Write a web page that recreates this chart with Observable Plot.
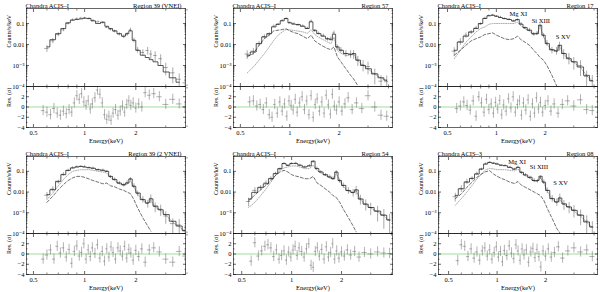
<!DOCTYPE html>
<html><head><meta charset="utf-8">
<script src="https://cdn.jsdelivr.net/npm/d3@7"></script>
<script src="https://cdn.jsdelivr.net/npm/@observablehq/plot@0.6"></script>
<style>
body{margin:0;background:#fff;}
#fig{position:relative;width:600px;height:292px;overflow:hidden;font-family:"Liberation Serif","DejaVu Serif",serif;}
#fig svg{position:absolute;overflow:visible;}
</style></head><body><div id="fig"></div>
<script>
// ---------- shared grids ----------
const energy = [0.55,0.6,0.65,0.7,0.75,0.8,0.85,0.9,0.95,1.0,1.06,1.12,1.2,1.28,1.35,1.42,1.5,1.6,1.7,1.78,1.86,1.95,2.05,2.2,2.35,2.45,2.6,2.8,3.0,3.3,3.6,3.9];
const relErr = [0.45,0.35,0.28,0.22,0.18,0.14,0.12,0.1,0.1,0.1,0.1,0.1,0.1,0.12,0.12,0.14,0.15,0.17,0.2,0.2,0.2,0.25,0.3,0.35,0.4,0.45,0.5,0.55,0.6,0.7,0.8,0.85];
const resEnergy = [0.57,0.6,0.63,0.66,0.69,0.72,0.75,0.78,0.81,0.84,0.87,0.9,0.93,0.96,0.99,1.02,1.05,1.08,1.11,1.15,1.19,1.23,1.27,1.31,1.35,1.39,1.43,1.47,1.52,1.57,1.62,1.67,1.72,1.77,1.82,1.87,1.93,2.0,2.08,2.17,2.27,2.4,2.55,2.75,3.0,3.3,3.6,3.9];

// ---------- Panel 1: Region 39 (VNEI) ----------
const p1Model = [null,0.0077,0.017,0.033,0.058,0.108,0.145,0.155,0.166,0.18,0.175,0.134,0.1,0.116,0.074,0.058,0.045,0.033,0.025,0.033,0.045,0.016,0.0053,0.0031,0.0024,0.0019,0.0015,0.001,0.00049,0.00026,0.00016,null];
const p1Data = [null,0.0065,0.015,0.03,0.05,0.1,0.15,0.17,0.18,0.18,0.17,0.14,0.12,0.11,0.065,0.052,0.042,0.031,0.024,0.031,0.05,0.016,0.0055,0.0042,0.0052,0.0035,0.003,0.0021,0.0008,0.00045,0.00022,0.00015];
const p1Res = [-0.7,-1.0,-1.5,-0.3,-1.2,-1.6,-0.8,-1.3,-0.5,-1.0,0.8,2.2,1.5,2.6,1.0,0.3,1.2,-0.4,0.6,1.8,3.3,2.5,0.8,-1.5,-2.4,-1.8,-2.6,-1.2,-0.5,-1.6,-0.8,0.2,-1.0,0.5,1.2,0.3,0.8,-0.2,0.6,0.0,2.8,2.3,2.6,2.0,0.5,1.5,0.6,0.0];

// ---------- Panel 2: Region 57 ----------
const p2Model = [0.0031,0.0044,0.011,0.023,0.033,0.069,0.093,0.134,0.174,0.108,0.093,0.09,0.074,0.058,0.12,0.048,0.033,0.025,0.019,0.017,0.031,0.0077,0.0053,0.0037,0.0034,0.0037,0.0018,0.001,0.0007,0.0004,0.00026,0.0002];
const p2Data = [0.0035,0.0048,0.011,0.024,0.031,0.075,0.09,0.14,0.17,0.11,0.1,0.085,0.078,0.06,0.13,0.045,0.034,0.027,0.018,0.019,0.036,0.0075,0.0056,0.0038,0.0036,0.0035,0.0018,0.0011,0.0009,0.0004,0.00018,0.00017];
const p2Hard = [0.00044,0.00085,0.0018,0.0037,0.0077,0.016,0.028,0.04,0.052,0.05,0.047,0.044,0.04,0.034,0.05,0.03,0.022,0.017,0.013,0.011,0.022,0.0052,0.0038,0.003,0.0031,0.0034,0.0017,0.00098,0.00068,0.00039,0.00025,0.00019];
const p2Soft = [0.0026,0.0037,0.0092,0.019,0.028,0.045,0.048,0.052,0.056,0.045,0.037,0.033,0.025,0.019,0.028,0.015,0.011,0.0082,0.0064,0.0057,0.0077,0.0026,0.0015,0.0007,0.00034,0.00023,0.00011,null,null,null,null,null];
const p2Res = [1.0,1.2,0.2,0.5,-0.5,0.8,-1.5,-2.0,0.5,-1.2,1.0,-0.8,0.6,-1.8,1.2,0.3,-0.6,1.5,-1.0,0.8,2.0,-0.5,1.2,-1.5,2.2,-2.0,0.5,1.6,-0.8,1.0,-1.2,2.3,0.4,-1.4,2.5,0.2,-0.6,1.0,-0.8,0.6,1.8,-0.5,0.8,-0.3,2.2,0.0,-1.6,-1.8];

// ---------- Panel 3: Region 17 ----------
const p3Model = [0.0053,0.013,0.025,0.04,0.058,0.1,0.173,0.233,0.25,0.224,0.193,0.173,0.155,0.134,0.155,0.093,0.064,0.048,0.033,0.033,0.083,0.028,0.011,0.0057,0.0049,0.0092,0.0037,0.0021,0.0015,0.00085,0.00034,0.00019];
const p3Data = [0.0048,0.014,0.028,0.038,0.062,0.095,0.18,0.24,0.25,0.22,0.2,0.17,0.16,0.13,0.15,0.098,0.062,0.05,0.031,0.035,0.08,0.027,0.012,0.0055,0.0052,0.0088,0.0038,0.0024,0.0015,0.001,0.0003,0.00018];
const p3Hard = [0.0021,0.0053,0.013,0.023,0.04,0.058,0.069,0.093,0.1,0.1,0.1,0.1,0.1,0.1,0.116,0.077,0.056,0.043,0.031,0.03,0.075,0.025,0.0103,0.0053,0.0046,0.0086,0.0034,0.002,0.0014,0.00081,0.00033,0.00019];
const p3Soft = [0.0031,0.0053,0.0092,0.015,0.019,0.023,0.03,0.033,0.036,0.028,0.023,0.019,0.017,0.019,0.025,0.017,0.013,0.0092,0.0053,0.0037,0.0024,0.0018,0.001,0.00034,0.00011,null,null,null,null,null,null,null];
const p3Res = [-0.3,0.2,1.0,0.3,-0.6,1.2,-1.8,2.0,0.8,-1.0,1.5,-0.5,0.6,-1.2,0.9,-0.4,1.3,-1.5,0.4,-0.8,1.6,-0.2,2.0,-1.0,0.5,1.2,-1.6,0.8,-0.6,1.4,-1.8,0.6,-1.2,1.8,-0.4,0.9,-1.0,0.3,1.2,-0.8,0.6,-1.2,0.5,1.2,0.2,1.4,-0.5,-0.7];

// ---------- Panel 4: Region 39 (2 VNEI) ----------
const p4Model = [null,0.0075,0.013,0.033,0.069,0.112,0.145,0.16,0.174,0.16,0.15,0.14,0.12,0.112,0.1,0.057,0.04,0.027,0.023,0.027,0.043,0.019,0.009,0.0043,0.003,0.0047,0.0021,0.0014,0.00082,0.00039,0.00023,0.00014];
const p4Data = [null,0.007,0.014,0.031,0.072,0.11,0.15,0.17,0.17,0.17,0.15,0.145,0.12,0.115,0.1,0.055,0.042,0.028,0.022,0.029,0.042,0.02,0.0085,0.0045,0.0028,0.005,0.002,0.0015,0.0007,0.0003,0.00026,0.00013];
const p4Hard = [null,0.0043,0.009,0.02,0.04,0.069,0.1,0.112,0.12,0.12,0.12,0.112,0.1,0.093,0.083,0.051,0.036,0.025,0.02,0.024,0.034,0.017,0.0081,0.004,0.0028,0.004,0.0019,0.0013,0.00076,0.00036,0.00021,0.00013];
const p4Soft = [null,0.0032,0.0063,0.013,0.023,0.036,0.048,0.057,0.057,0.051,0.043,0.036,0.03,0.025,0.027,0.02,0.018,0.014,0.012,0.0098,0.0084,0.0043,0.0017,0.00057,0.00023,0.00013,null,null,null,null,null,null];
const p4Res = [-1.0,-0.2,0.8,-1.0,1.5,0.2,1.2,-0.6,0.9,-1.8,0.5,1.6,-0.4,0.3,2.0,-1.0,0.8,-0.5,1.2,0.1,1.8,-0.8,0.5,-1.4,1.0,-0.6,1.4,0.3,-1.0,1.2,0.6,-0.4,1.5,-0.8,0.9,0.2,-1.2,0.7,-0.5,1.0,-1.6,0.8,1.2,0.4,-1.0,-1.6,0.5,-0.4];

// ---------- Panel 5: Region 54 ----------
const p5Model = [0.0046,0.0097,0.017,0.025,0.044,0.077,0.135,0.237,0.197,0.237,0.237,0.197,0.163,0.182,0.31,0.135,0.093,0.069,0.053,0.044,0.093,0.036,0.021,0.0118,0.0097,0.0127,0.0046,0.0026,0.0018,0.0012,0.00076,0.00045];
const p5Data = [0.0035,0.012,0.016,0.028,0.046,0.08,0.13,0.24,0.19,0.24,0.25,0.2,0.16,0.19,0.29,0.14,0.095,0.067,0.055,0.046,0.09,0.035,0.021,0.012,0.0095,0.013,0.0047,0.0027,0.0018,0.0012,0.0008,0.00045];
const p5Hard = [0.0018,0.0032,0.0067,0.014,0.03,0.064,0.112,0.146,0.163,0.182,0.182,0.163,0.135,0.135,0.197,0.112,0.083,0.064,0.049,0.041,0.077,0.034,0.019,0.011,0.009,0.0118,0.0043,0.0024,0.0017,0.0011,0.0007,0.00042];
const p5Soft = [0.0038,0.0072,0.0127,0.021,0.036,0.064,0.093,0.112,0.093,0.069,0.059,0.053,0.044,0.044,0.057,0.028,0.021,0.0142,0.0097,0.0067,0.0055,0.0032,0.0015,0.00058,0.00023,0.00012,null,null,null,null,null,null];
const p5Res = [-1.4,2.2,-0.4,0.6,1.5,1.8,1.2,-0.5,0.8,-1.0,-0.3,0.6,-1.2,0.4,-0.6,0.8,1.5,-0.3,1.2,0.5,-0.6,1.0,2.0,-2.2,-2.6,0.5,1.2,-0.4,0.9,-1.0,1.4,-0.6,0.3,2.0,-1.0,0.6,-0.8,0.4,-0.4,0.8,-0.2,0.5,-0.6,0.3,0.0,0.4,0.2,0.1];

// ---------- Panel 6: Region 08 ----------
const p6Model = [0.0069,0.0143,0.03,0.046,0.074,0.13,0.224,0.27,0.25,0.224,0.2,0.187,0.155,0.13,0.155,0.09,0.067,0.052,0.036,0.036,0.058,0.03,0.012,0.0048,0.0033,0.0051,0.0027,0.0019,0.0013,0.00076,0.00036,0.00021];
const p6Data = [0.006,0.015,0.032,0.045,0.078,0.125,0.23,0.27,0.24,0.23,0.19,0.19,0.16,0.125,0.16,0.088,0.068,0.05,0.037,0.034,0.05,0.031,0.012,0.005,0.0034,0.0055,0.0026,0.002,0.0014,0.0008,0.0004,0.0002];
const p6Hard = [0.0023,0.0048,0.01,0.021,0.043,0.074,0.12,0.139,0.13,0.12,0.12,0.12,0.112,0.104,0.13,0.077,0.06,0.046,0.033,0.033,0.048,0.028,0.011,0.0044,0.003,0.0044,0.0025,0.0018,0.0012,0.0007,0.00034,0.0002];
const p6Soft = [0.0048,0.0082,0.017,0.03,0.052,0.074,0.096,0.108,0.074,0.058,0.046,0.039,0.03,0.026,0.032,0.021,0.017,0.013,0.01,0.0082,0.0068,0.004,0.0016,0.00052,0.00017,0.00011,null,null,null,null,null,null];
const p6Res = [-1.3,1.8,1.5,-0.5,1.0,-0.8,0.4,-1.2,0.6,1.2,-0.4,0.8,-1.0,0.3,1.4,-0.6,0.5,-1.5,0.7,-0.3,1.6,0.2,-0.9,1.8,0.6,-1.2,1.0,-0.2,0.8,-1.6,0.4,1.1,-0.7,0.9,-0.5,-2.5,0.6,-0.4,1.0,-0.6,0.3,1.4,-0.8,0.6,1.2,0.4,0.8,-0.5];

// ---------- text & ticks ----------
const regionTitles = ["Region 39 (VNEI)","Region 57","Region 17","Region 39 (2 VNEI)","Region 54","Region 08"];
const instruments = ["Chandra ACIS–I","Chandra ACIS–I","Chandra ACIS–I","Chandra ACIS–I","Chandra ACIS–I","Chandra ACIS–3"];
const lineNames = ["Mg XI","Si XIII","S XV"];
const lineE3 = [1.365,1.88,2.58];
const lineY3 = [0.28,0.134,0.023];
const lineE6 = [1.33,1.82,2.48];
const lineY6 = [0.3,0.155,0.028];
const xDomains = [[0.455,3.92],[0.454,4.23],[0.44,4.2],[0.455,3.92],[0.446,4.06],[0.433,4.2]];
const yDomainTop = [1e-4,0.52];
const yDomainRes = [-4,4];
const xMajor = [0.5,1,2];
const xMajorText = ["0.5","1","2"];
const xMinor = [0.6,0.7,0.8,0.9,3,4];
const yMajor = [1e-4,1e-3,1e-2,0.1];
const yMajorText = ["10⁻⁴","10⁻³","0.01","0.1"];
const yMinor = [2e-4,3e-4,4e-4,5e-4,6e-4,7e-4,8e-4,9e-4,2e-3,3e-3,4e-3,5e-3,6e-3,7e-3,8e-3,9e-3,0.02,0.03,0.04,0.05,0.06,0.07,0.08,0.09,0.2,0.3,0.4,0.5];
const resMajor = [-4,-2,0,2];
const resMajorText = ["−4","−2","0","2"];
const resMinor = [-3,-1,1,3];

const panels = [
  {model:p1Model,data:p1Data,hard:null,soft:null,res:p1Res,lines:null},
  {model:p2Model,data:p2Data,hard:p2Hard,soft:p2Soft,res:p2Res,lines:null},
  {model:p3Model,data:p3Data,hard:p3Hard,soft:p3Soft,res:p3Res,lines:[lineE3,lineY3]},
  {model:p4Model,data:p4Data,hard:p4Hard,soft:p4Soft,res:p4Res,lines:null},
  {model:p5Model,data:p5Data,hard:p5Hard,soft:p5Soft,res:p5Res,lines:null},
  {model:p6Model,data:p6Data,hard:p6Hard,soft:p6Soft,res:p6Res,lines:[lineE6,lineY6]}
];

// ---------- layout ----------
const colLeft = [26,233,438], frameW = 159;
const rowTop = [8,156], rowDiv = [86,233], rowBot = [127,274];
const mL = 26, mR = 4;
const fig = document.getElementById("fig");
const baseStyle = {fontFamily:'"Liberation Serif","DejaVu Serif",serif', fontSize:"6.5px", background:"transparent", overflow:"visible", color:"black"};

function binEdges(E, i, f) {
  const prev = i > 0 ? E[i-1] : E[i]*E[i]/E[i+1];
  const next = i < E.length-1 ? E[i+1] : E[i]*E[i]/E[i-1];
  return [E[i]*Math.pow(prev/E[i], f), E[i]*Math.pow(next/E[i], f)];
}
function series(arr) { return energy.map((E,i)=>({E, v: arr[i]})); }

function frameTicks(yMaj, yMin, yText, xText) {
  const none = () => "";
  return [
    Plot.axisY({anchor:"left", ticks:yMaj, tickSize:-3, tickPadding:5, tickFormat: d => yText[yMaj.indexOf(d)], label:null, strokeWidth:0.6}),
    Plot.axisY({anchor:"left", ticks:yMin, tickSize:-1.5, tickFormat:none, label:null, strokeWidth:0.5}),
    Plot.axisY({anchor:"right", ticks:yMaj, tickSize:-3, tickFormat:none, label:null, strokeWidth:0.6}),
    Plot.axisY({anchor:"right", ticks:yMin, tickSize:-1.5, tickFormat:none, label:null, strokeWidth:0.5}),
    Plot.axisX({anchor:"top", ticks:xMajor, tickSize:-3, tickFormat:none, label:null, strokeWidth:0.6}),
    Plot.axisX({anchor:"top", ticks:xMinor, tickSize:-1.5, tickFormat:none, label:null, strokeWidth:0.5}),
    Plot.axisX({anchor:"bottom", ticks:xMajor, tickSize:-3, tickPadding:6, tickFormat: xText ? (d => xMajorText[xMajor.indexOf(d)]) : none, label:null, strokeWidth:0.6}),
    Plot.axisX({anchor:"bottom", ticks:xMinor, tickSize:-1.5, tickFormat:none, label:null, strokeWidth:0.5})
  ];
}

panels.forEach((p, k) => {
  const col = k % 3, row = Math.floor(k / 3);
  const left = colLeft[col] - mL;
  const width = mL + frameW + mR;
  const xDom = xDomains[k];

  // ----- spectrum -----
  const dataRows = energy.map((E,i) => {
    const v = p.data[i];
    if (v == null) return null;
    const [e0,e1] = binEdges(energy, i, 0.35);
    return {E, v, lo: v*(1-relErr[i]), hi: v*(1+relErr[i]), e0, e1};
  }).filter(d => d);
  const hTop = 8 + (rowDiv[row] - rowTop[row]);
  const marks = [];
  if (p.hard) marks.push(Plot.line(series(p.hard), {x:"E", y:"v", stroke:"#8a8a8a", strokeWidth:0.7, strokeDasharray:"1,1.3", clip:true}));
  if (p.soft) marks.push(Plot.line(series(p.soft), {x:"E", y:"v", stroke:"#111", strokeWidth:0.6, strokeDasharray:"3,2", clip:true}));
  marks.push(
    Plot.ruleX(dataRows, {x:"E", y1:"lo", y2:"hi", stroke:"#555", strokeWidth:0.5, clip:true}),
    Plot.ruleY(dataRows, {y:"v", x1:"e0", x2:"e1", stroke:"#555", strokeWidth:0.5, clip:true}),
    Plot.line(series(p.model), {x:"E", y:"v", curve:"step", stroke:"#000", strokeWidth:0.65, clip:true}),
    Plot.frame({stroke:"#000", strokeWidth:0.6}),
    ...frameTicks(yMajor, yMinor, yMajorText, false),
    Plot.text([instruments[k]], {text:d=>d, frameAnchor:"top-left", textAnchor:"start", lineAnchor:"bottom", dx:-1, dy:-1, fontSize:6.5}),
    Plot.text([regionTitles[k]], {text:d=>d, frameAnchor:"top-right", textAnchor:"end", lineAnchor:"bottom", dx:-4, dy:-1, fontSize:6.5}),
    Plot.text(["Counts/s/keV"], {text:d=>d, frameAnchor:"left", rotate:-90, dx:-17, fontSize:6})
  );
  if (p.lines) {
    const [le, ly] = p.lines;
    marks.push(Plot.text(lineNames.map((n,i)=>({n, E:le[i], y:ly[i]})), {x:"E", y:"y", text:"n", fontSize:6.5}));
  }
  const top = Plot.plot({
    width, height: hTop, marginLeft:mL, marginRight:mR, marginTop:8, marginBottom:0,
    x:{type:"log", domain:xDom}, y:{type:"log", domain:yDomainTop},
    style: baseStyle, marks
  });
  top.style.left = left + "px";
  top.style.top = (rowTop[row] - 8) + "px";
  fig.appendChild(top);

  // ----- residuals -----
  const resRows = resEnergy.map((E,i) => {
    const r = p.res[i];
    const [e0,e1] = binEdges(resEnergy, i, 0.45);
    return {E, r, lo:r-1, hi:r+1, e0, e1};
  });
  const hRes = (rowBot[row] - rowDiv[row]) + 18;
  const res = Plot.plot({
    width, height: hRes, marginLeft:mL, marginRight:mR, marginTop:0, marginBottom:18,
    x:{type:"log", domain:xDom}, y:{domain:yDomainRes},
    style: baseStyle,
    marks: [
      Plot.ruleY([0], {stroke:"#86d486", strokeWidth:0.8}),
      Plot.ruleX(resRows, {x:"E", y1:"lo", y2:"hi", stroke:"#666", strokeWidth:0.5, clip:true}),
      Plot.ruleY(resRows, {y:"r", x1:"e0", x2:"e1", stroke:"#666", strokeWidth:0.5, clip:true}),
      Plot.frame({stroke:"#000", strokeWidth:0.6}),
      ...frameTicks(resMajor, resMinor, resMajorText, true),
      Plot.text(["Res. (σ)"], {text:d=>d, frameAnchor:"left", rotate:-90, dx:-17, fontSize:6}),
      Plot.text(["Energy(keV)"], {text:d=>d, frameAnchor:"bottom", lineAnchor:"middle", dy:13, fontSize:6.5})
    ]
  });
  res.style.left = left + "px";
  res.style.top = rowDiv[row] + "px";
  fig.appendChild(res);
});
</script>
</body></html>
